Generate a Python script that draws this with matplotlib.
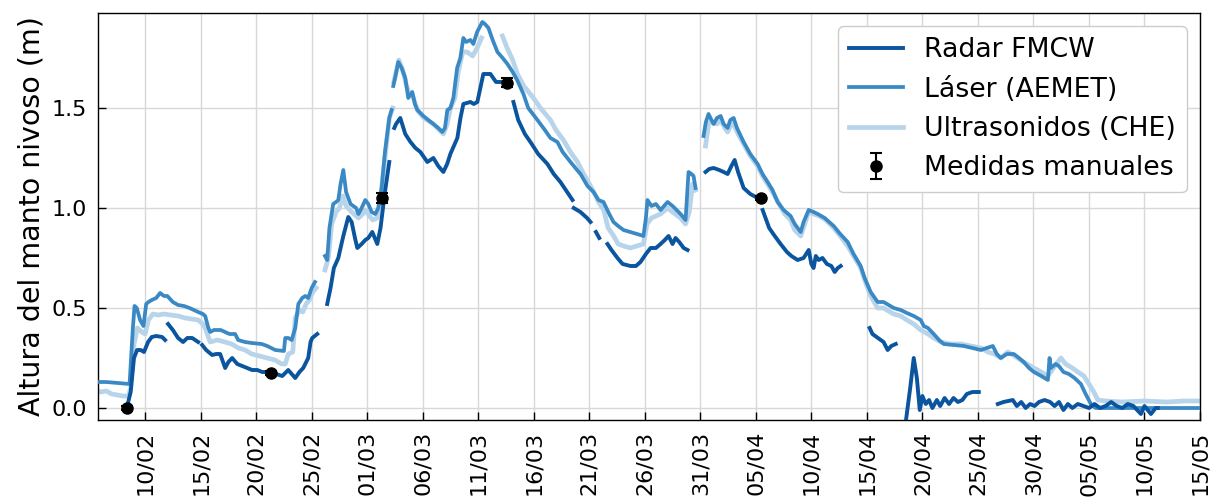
import numpy as np
import pandas as pd
import matplotlib
matplotlib.use("Agg")
import matplotlib.pyplot as plt
import matplotlib.dates as mdates

# Origin of the time axis; all times below are in days since this date
T0 = pd.Timestamp("2016-02-10")
NA = np.nan

# Radar FMCW (NaN marks gaps in the record)
t_radar = [
    -1.65, -1.3, -1.0, -0.72, -0.4, -0.1, 0.27, 0.6, 1.0, 1.53, 1.8, NA,
    2.07, 2.5, 2.97, 3.42, 3.8, 4.24, 4.78, NA,
    5.14, 5.5, 6.04, 6.4, 6.76, 7.21, 7.5, 7.84, 8.3, 8.74, 9.2, 9.64, 10.1, 10.55,
    11.0, 11.33, 11.8, 12.35, 12.89, 13.2, 13.52, 13.9, 14.24, 14.69, 14.9, 15.05, 15.5, NA,
    16.4, 16.7, 17.0, 17.4, 17.85, 18.3, 18.6, 18.9, 19.11, 19.5, 19.83, 20.1, 20.46,
    20.91, 21.2, 21.6, 21.99, NA,
    22.44, 22.6, 22.98, 23.43, 23.9, 24.34, 24.79, 25.42, 25.96, 26.4, 26.86, 27.2,
    27.49, 28.12, 28.4, 28.66, 29.29, 29.6, 29.92, 30.46, 31.1, 31.6, 32.0, NA,
    33.17, 33.6, 34.2, 34.7, 35.4, 36.23, 36.8, 37.4, 38.0, 38.49, NA,
    38.6, 39.2, 39.8, 40.11, NA,
    40.6, 40.9, NA,
    41.64, 42.0, 42.54, 43.0, 43.71, 44.2, 44.61, 45.1, 45.52, 46.0, 46.42, 46.8,
    47.14, 47.5, 47.77, 48.1, 48.5, 48.85, NA,
    50.47, 50.8, 51.2, 51.7, 52.1, 52.46, 52.8, 53.09, 53.4, 53.9, 54.5, 55.16, NA,
    55.61, 56.2, 56.7, 57.23, 57.8, 58.2, 58.76, 59.3, 59.76, 60.0, 60.2, 60.4, 60.66,
    61.0, 61.4, 61.8, 62.1, 62.38, 62.64, NA,
    65.25, 65.5, 66.0, 66.5, 66.87, 67.2, 67.6, NA,
    68.5, 68.9, 69.22, 69.5, 69.76, 70.0, 70.3, 70.6, 70.9, 71.3, 71.6, 72.0, 72.4,
    72.8, 73.2, 73.6, 74.0, 74.5, 75.08, NA,
    76.79, 77.3, 78.14, 78.5, 78.9, 79.3, 79.7, 80.1, 80.5, 81.0, 81.5, 81.9, 82.3,
    82.7, 83.1, 83.5, 84.0, 84.5, 85.0, 85.5, 86.0, 86.5, 87.0, 87.5, 88.0, 88.5,
    89.0, 89.68, 90.0, 90.58, 91.0, 91.2,
]
h_radar = [
    0.0, 0.08, 0.25, 0.29, 0.29, 0.28, 0.33, 0.355, 0.36, 0.355, 0.34, NA,
    0.42, 0.39, 0.35, 0.33, 0.35, 0.35, 0.33, NA,
    0.315, 0.29, 0.265, 0.27, 0.27, 0.20, 0.23, 0.25, 0.22, 0.21, 0.20, 0.19, 0.19, 0.18,
    0.18, 0.175, 0.17, 0.16, 0.19, 0.17, 0.15, 0.18, 0.20, 0.25, 0.33, 0.35, 0.37, NA,
    0.52, 0.60, 0.70, 0.75, 0.86, 0.955, 0.93, 0.85, 0.80, 0.82, 0.84, 0.85, 0.88,
    0.82, 0.90, 1.08, 1.23, NA,
    1.40, 1.42, 1.45, 1.37, 1.33, 1.30, 1.28, 1.23, 1.25, 1.21, 1.18, 1.22,
    1.27, 1.35, 1.45, 1.52, 1.53, 1.52, 1.53, 1.67, 1.67, 1.63, 1.63, NA,
    1.53, 1.44, 1.37, 1.33, 1.27, 1.22, 1.17, 1.13, 1.08, 1.04, NA,
    1.00, 0.98, 0.95, 0.93, NA,
    0.88, 0.85, NA,
    0.82, 0.79, 0.75, 0.72, 0.71, 0.71, 0.73, 0.77, 0.80, 0.80, 0.82, 0.84,
    0.86, 0.82, 0.85, 0.83, 0.80, 0.79, NA,
    1.18, 1.195, 1.20, 1.19, 1.18, 1.17, 1.21, 1.24, 1.18, 1.10, 1.07, 1.05, NA,
    0.99, 0.90, 0.86, 0.82, 0.78, 0.76, 0.74, 0.75, 0.79, 0.72, 0.70, 0.76, 0.74,
    0.75, 0.72, 0.71, 0.68, 0.70, 0.71, NA,
    0.40, 0.37, 0.35, 0.33, 0.29, 0.31, 0.32, NA,
    -0.07, 0.10, 0.25, 0.15, -0.01, 0.06, 0.02, 0.04, 0.00, 0.04, 0.01, 0.05, 0.02,
    0.05, 0.03, 0.04, 0.07, 0.08, 0.08, NA,
    0.02, 0.03, 0.04, 0.01, 0.03, 0.00, 0.02, 0.01, 0.03, 0.04, 0.03, 0.01, 0.03,
    -0.01, 0.02, 0.00, 0.02, 0.01, 0.00, 0.02, 0.00, 0.01, 0.03, 0.01, 0.00, 0.02,
    0.01, -0.03, 0.01, -0.03, 0.00, 0.00,
]

# Laser (AEMET)
t_laser = [
    -4.5, -3.5, -2.5, -1.6, -1.4, -1.1, -0.95, -0.75, -0.45, -0.15, 0.1, 0.3, 0.6, 1.0,
    1.35, 1.7, 2.0, 2.5, 2.97, 3.5, 4.0, 4.78, 5.2, 5.41, 5.7, 5.86, 6.2, 6.8, 7.2, 7.6,
    8.11, 8.38, 9.0, 9.6, 10.5, 11.0, 11.72, 12.5, 12.62, 12.9, 13.2, 13.52, 13.8, 14.15,
    14.42, 14.69, 15.0, 15.3, NA,
    16.2, 16.4, 16.6, 16.94, 17.2, 17.4, 17.6, 17.85, 18.1, 18.5, 19.0, 19.21, 19.5,
    19.83, 20.1, 20.4, 20.73, 21.0, 21.3, 21.6, 21.99, 22.2, NA,
    22.35, 22.55, 22.8, 23.1, 23.43, 23.7, 24.06, 24.3, 24.52, 25.06, 25.5, 25.96, 26.4,
    26.77, 27.0, 27.22, 27.5, 27.76, 28.1, 28.39, 28.66, 28.9, 29.3, 29.56, 29.9, 30.37,
    30.6, 30.92, 31.3, 31.73, 32.2, 32.63, 33.1, 33.5, 34.07, 34.5, 35.33, 36.0, 36.5,
    37.13, 37.6, 38.31, 38.9, 39.21, 39.84, 40.38, 40.83, 41.28, 41.8, 42.18, 42.6,
    43.08, 43.7, 44.3, 44.88, 45.1, 45.24, 45.6, 46.0, 46.42, 47.05, 47.5, 48.22, 48.67,
    48.85, 48.94, 49.2, 49.39, 49.57, NA,
    50.29, 50.5, 50.74, 51.0, 51.2, 51.5, 51.83, 52.1, 52.46, 52.7, 53.0, 53.3, 53.9,
    54.5, 55.16, 55.6, 56.06, 56.5, 56.96, 57.5, 58.13, 58.5, 59.04, 59.3, 59.76, 60.2,
    60.57, 61.2, 62.01, 62.6, 63.27, 63.8, 64.44, 64.8, 65.34, 65.97, 66.5, 67.42, 68.05,
    68.6, 69.22, 69.85, 70.12, 70.5, 71.02, 71.5, 71.92, 72.8, 73.73, 74.5, 75.26, 75.8,
    76.34, 76.7, 77.06, 77.6, 78.23, 78.7, 79.13, 79.6, 80.04, 80.7, 81.3, 81.45, 81.57,
    82.0, 82.29, 82.7, 83.19, 83.7, 84.27, 84.7, 85.17, 85.6, 95.0,
]
h_laser = [
    0.13, 0.13, 0.125, 0.12, 0.12, 0.40, 0.51, 0.50, 0.44, 0.41, 0.52, 0.53, 0.54, 0.55,
    0.575, 0.56, 0.56, 0.53, 0.515, 0.51, 0.50, 0.48, 0.47, 0.46, 0.40, 0.38, 0.39, 0.39, 0.38, 0.37,
    0.37, 0.34, 0.33, 0.325, 0.32, 0.31, 0.29, 0.285, 0.35, 0.35, 0.34, 0.40, 0.52, 0.55,
    0.56, 0.55, 0.60, 0.63, NA,
    0.76, 0.74, 0.90, 1.02, 1.03, 1.04, 1.12, 1.19, 1.08, 1.02, 1.00, 0.97, 1.00,
    1.04, 1.02, 0.98, 0.97, 1.00, 1.10, 1.28, 1.45, 1.49, NA,
    1.61, 1.66, 1.73, 1.70, 1.65, 1.55, 1.58, 1.52, 1.49, 1.46, 1.44, 1.42, 1.40,
    1.38, 1.40, 1.49, 1.50, 1.55, 1.70, 1.75, 1.85, 1.83, 1.84, 1.82, 1.88, 1.93,
    1.92, 1.90, 1.84, 1.78, 1.75, 1.72, 1.68, 1.64, 1.57, 1.50, 1.44, 1.39, 1.35,
    1.33, 1.28, 1.23, 1.19, 1.17, 1.11, 1.08, 1.04, 1.03, 0.97, 0.93, 0.91,
    0.89, 0.88, 0.87, 0.86, 0.95, 1.04, 1.01, 1.02, 0.99, 1.03, 1.01, 0.97, 0.94,
    1.10, 1.18, 1.17, 1.16, 1.10, NA,
    1.36, 1.43, 1.47, 1.44, 1.42, 1.45, 1.46, 1.42, 1.40, 1.44, 1.45, 1.40, 1.33,
    1.27, 1.22, 1.17, 1.13, 1.09, 1.03, 0.99, 0.96, 0.92, 0.88, 0.93, 0.99, 0.98,
    0.97, 0.95, 0.91, 0.87, 0.83, 0.77, 0.71, 0.65, 0.58, 0.53, 0.53, 0.50, 0.49,
    0.475, 0.46, 0.44, 0.41, 0.40, 0.37, 0.34, 0.32, 0.315, 0.31, 0.30, 0.29, 0.30,
    0.31, 0.27, 0.25, 0.27, 0.27, 0.25, 0.23, 0.20, 0.18, 0.16, 0.14, 0.25, 0.20,
    0.22, 0.21, 0.18, 0.17, 0.15, 0.12, 0.07, 0.02, 0.0, 0.0,
]

# Ultrasonidos (CHE)
t_ultra = [
    -4.5, -4.0, -3.5, -3.0, -2.5, -2.0, -1.5, -1.3, -1.0, -0.7, -0.3, 0.0, 0.3, 0.7,
    1.2, 1.7, 2.3, 3.0, 3.6, 4.2, 4.78, 5.2, 5.41, 5.86, 6.5, 7.2, 7.8, 8.4, 9.0, 9.6,
    10.3, 11.0, 11.7, 12.3, 12.62, 12.9, 13.3, 13.52, 13.9, 14.2, 14.5, 14.8, 15.1, 15.4, NA,
    16.2, 16.5, 16.8, 17.2, 17.5, 17.8, 18.1, 18.6, 19.21, 19.6, 19.83, 20.2, 20.5,
    20.9, 21.2, 21.6, 22.0, 22.3, NA,
    22.4, 22.6, 22.85, 23.2, 23.5, 23.8, 24.1, 24.5, 25.1, 25.96, 26.5, 26.86, 27.2,
    27.5, 27.9, 28.2, 28.6, 29.0, 29.5, 29.9, 30.3, NA,
    32.18, 32.6, 33.1, 33.53, 34.1, 34.97, 35.6, 36.5, 37.0, 37.67, 38.3, 38.94, 39.5,
    40.11, 40.5, 40.83, 41.3, 41.7, 42.2, 42.6, 43.1, 43.7, 44.3, 44.88, 45.2, 45.6,
    46.0, 46.42, 47.05, 47.5, 48.22, 48.67, 49.0, 49.3, 49.57, NA,
    50.47, 50.74, 51.0, 51.5, 51.83, 52.2, 52.46, 52.8, 53.0, 53.4, 53.9, 54.5, 55.16,
    55.6, 56.06, 56.6, 57.0, 57.6, 58.13, 58.5, 59.04, 59.4, 59.76, 60.2, 60.7, 61.3,
    62.01, 62.6, 63.27, 63.8, 64.44, 64.8, 65.34, 65.97, 66.5, 67.4, 68.05, 68.6, 69.22,
    69.85, 70.5, 71.02, 71.65, 72.5, 73.5, 74.36, 75.3, 75.89, 76.5, 77.06, 77.7, 78.3,
    79.1, 80.04, 80.7, 81.3, 81.8, 82.47, 82.9, 83.5, 84.0, 84.54, 85.0, 85.44, 85.8,
    86.5, 88.0, 90.0, 92.0, 93.5, 95.0,
]
h_ultra = [
    0.09, 0.08, 0.085, 0.07, 0.065, 0.06, 0.06, 0.10, 0.32, 0.40, 0.38, 0.37, 0.44, 0.47,
    0.465, 0.47, 0.465, 0.46, 0.45, 0.445, 0.44, 0.42, 0.40, 0.33, 0.34, 0.33, 0.32, 0.30, 0.29, 0.27,
    0.26, 0.25, 0.24, 0.22, 0.22, 0.27, 0.28, 0.45, 0.49, 0.48, 0.52, 0.54, 0.58, 0.60, NA,
    0.69, 0.75, 0.92, 0.98, 1.00, 1.06, 1.01, 0.98, 0.95, 0.97, 0.99, 0.96, 0.94,
    0.95, 1.05, 1.25, 1.45, 1.50, NA,
    1.63, 1.68, 1.74, 1.69, 1.62, 1.57, 1.56, 1.49, 1.45, 1.42, 1.39, 1.37, 1.42,
    1.50, 1.55, 1.68, 1.78, 1.78, 1.76, 1.80, 1.85, NA,
    1.86, 1.80, 1.74, 1.67, 1.61, 1.55, 1.50, 1.44, 1.39, 1.34, 1.28, 1.23, 1.17,
    1.11, 1.07, 1.03, 0.99, 0.90, 0.86, 0.82, 0.81, 0.80, 0.81, 0.82, 0.92, 0.95,
    0.96, 0.97, 1.00, 0.98, 0.95, 0.92, 0.98, 1.12, 1.09, NA,
    1.31, 1.42, 1.43, 1.42, 1.44, 1.40, 1.38, 1.42, 1.42, 1.37, 1.32, 1.26, 1.21,
    1.16, 1.12, 1.07, 1.03, 0.97, 0.94, 0.89, 0.86, 0.92, 0.98, 0.97, 0.96, 0.94,
    0.90, 0.86, 0.81, 0.76, 0.70, 0.64, 0.56, 0.50, 0.50, 0.47, 0.46, 0.44, 0.42,
    0.39, 0.37, 0.35, 0.33, 0.32, 0.32, 0.31, 0.30, 0.28, 0.27, 0.25, 0.28, 0.26,
    0.23, 0.20, 0.18, 0.16, 0.20, 0.25, 0.22, 0.20, 0.18, 0.16, 0.12, 0.08, 0.04,
    0.035, 0.03, 0.035, 0.03, 0.035, 0.035,
]

# Manual measurements with their uncertainty
t_manual = [-1.65, 11.33, 21.36, 32.63, 55.43]
h_manual = [0.0, 0.175, 1.05, 1.627, 1.05]
err_manual = [0.01, 0.01, 0.025, 0.022, 0.01]

# Axis settings
tick_dates = pd.date_range("2016-02-10", "2016-05-15", freq="5D")
x_start_days = -4.24
y_ticks = [0.0, 0.5, 1.0, 1.5]

c_radar = "#0b559f"
c_laser = "#3a89c5"
c_ultra = "#b7d4ea"

base = mdates.date2num(T0)


def to_num(days):
    return base + np.asarray(days, dtype=float)


fig = plt.figure(figsize=(12.13, 4.99), dpi=100)
ax = fig.add_axes([0.0808, 0.1583, 0.9085, 0.8157])

l_ultra, = ax.plot(to_num(t_ultra), h_ultra, color=c_ultra, lw=3.4, zorder=2,
                   label="Ultrasonidos (CHE)")
l_laser, = ax.plot(to_num(t_laser), h_laser, color=c_laser, lw=2.7, zorder=3,
                   label="Láser (AEMET)")
l_radar, = ax.plot(to_num(t_radar), h_radar, color=c_radar, lw=2.8, zorder=4,
                   label="Radar FMCW")
em = ax.errorbar(to_num(t_manual), h_manual, yerr=err_manual, fmt="o", color="black",
                 ms=8, capsize=4, elinewidth=1.5, capthick=1.5, zorder=5,
                 label="Medidas manuales")

ax.set_xlim(base + x_start_days, mdates.date2num(pd.Timestamp("2016-05-15")))
ax.set_ylim(-0.06, 1.975)

ax.set_xticks(mdates.date2num(tick_dates))
ax.xaxis.set_major_formatter(mdates.DateFormatter("%d/%m"))
ax.set_yticks(y_ticks)
ax.set_yticklabels([f"{v:.1f}" for v in y_ticks])

ax.tick_params(axis="both", direction="in", length=6, width=1, labelsize=16, pad=8)
ax.tick_params(axis="x", labelrotation=90)
ax.grid(True, color="#d8d8d8", linewidth=1)
ax.set_axisbelow(True)
for s in ax.spines.values():
    s.set_color("black")
    s.set_linewidth(1)

ax.set_ylabel("Altura del manto nivoso (m)", fontsize=20.5)

ax.legend(handles=[l_radar, l_laser, l_ultra, em], loc="upper right",
          fontsize=19.3, framealpha=1, edgecolor="#cccccc", handlelength=2.0,
          borderaxespad=0.5)

fig.savefig("out.png", dpi=100)
